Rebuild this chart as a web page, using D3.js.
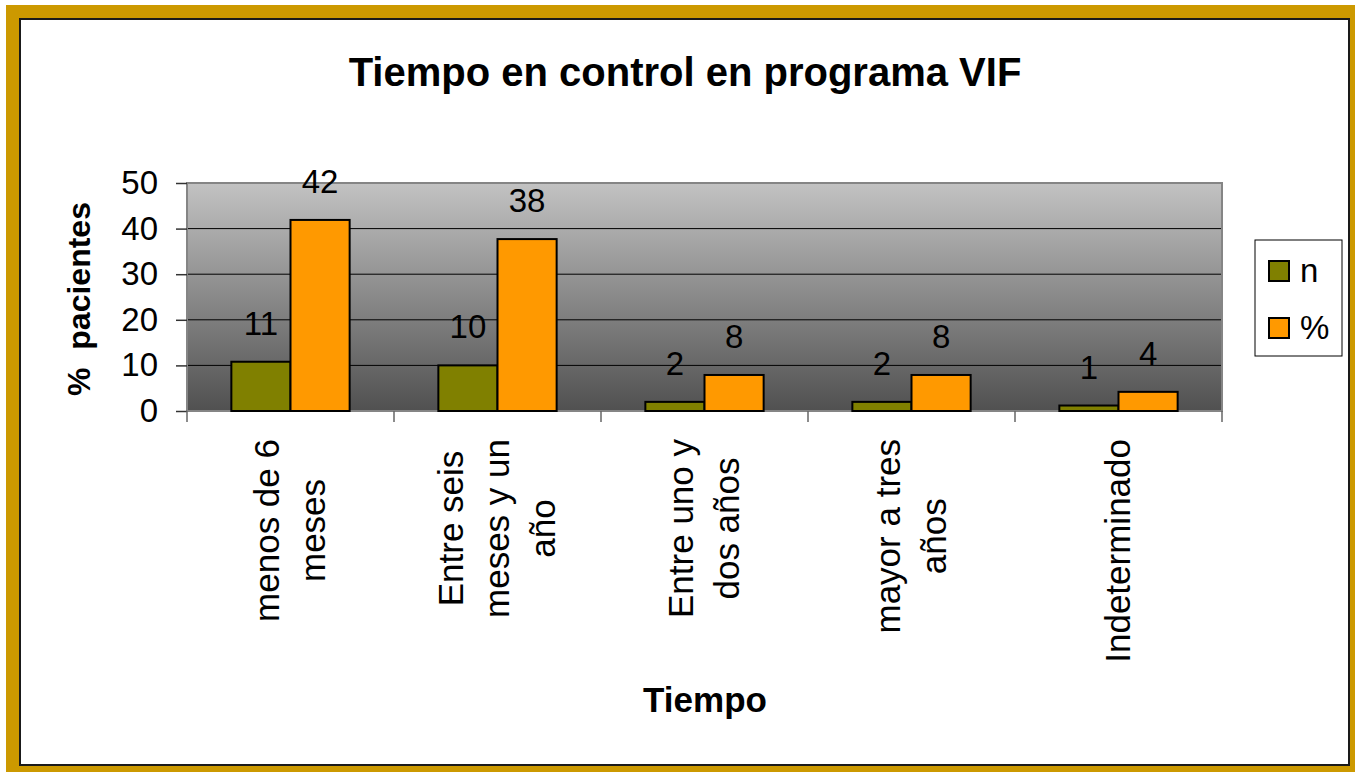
<!DOCTYPE html>
<html>
<head>
<meta charset="utf-8">
<script src="https://cdn.jsdelivr.net/npm/d3@7"></script>
<style>
  body { margin: 0; background: #fff; }
  text { font-family: "Liberation Sans", Arial, sans-serif; fill: #000; }
</style>
</head>
<body>
<div id="chart"></div>
<script>
var CATEGORIES = [
    ['menos de 6', 'meses'],
    ['Entre seis', 'meses y un', 'año'],
    ['Entre uno y', 'dos años'],
    ['mayor a tres', 'años'],
    ['Indeterminado']
];
var SERIES = ['n', '%'];
var N_VALUES = [10.8, 10, 2, 2, 1.2];
var PCT_VALUES = [41.9, 37.7, 7.9, 7.9, 4.2];
var Y_TICKS = [0, 10, 20, 30, 40, 50];
var COLORS = ['#808000', '#ff9900'];

var W = 1355, H = 773;
var plot = {left: 187, right: 1222, top: 183, bottom: 411};

var svg = d3.select('#chart').append('svg')
    .attr('width', W)
    .attr('height', H);

// gold frame + inner white panel
svg.append('rect')
    .attr('x', 6).attr('y', 5)
    .attr('width', W - 6).attr('height', 767)
    .attr('fill', '#cc9900');
svg.append('rect')
    .attr('x', 20).attr('y', 19)
    .attr('width', 1329).attr('height', 746)
    .attr('fill', '#fff')
    .attr('stroke', '#1a1a1a')
    .attr('stroke-width', 2);

svg.append('text')
    .attr('x', 685).attr('y', 86)
    .attr('text-anchor', 'middle')
    .attr('font-size', 40)
    .attr('font-weight', 'bold')
    .text('Tiempo en control en programa VIF');

var x = d3.scaleBand()
    .domain(d3.range(CATEGORIES.length))
    .range([plot.left, plot.right]);

var xs = d3.scaleBand()
    .domain(SERIES)
    .range([0, x.bandwidth()])
    .paddingOuter(0.75);

var y = d3.scaleLinear()
    .domain([0, 50])
    .range([plot.bottom, plot.top]);

// plot background gradient
var grad = svg.append('defs').append('linearGradient')
    .attr('id', 'bg')
    .attr('x1', 0).attr('y1', 0).attr('x2', 0).attr('y2', 1);
grad.append('stop').attr('offset', '0%').attr('stop-color', '#c2c2c2');
grad.append('stop').attr('offset', '100%').attr('stop-color', '#505050');

svg.append('rect')
    .attr('x', plot.left).attr('y', plot.top)
    .attr('width', plot.right - plot.left)
    .attr('height', plot.bottom - plot.top)
    .attr('fill', 'url(#bg)');

// gridlines
svg.append('g')
    .selectAll('line')
    .data(Y_TICKS.filter(function(d) { return d > 0 && d < 50; }))
    .enter()
    .append('line')
    .attr('x1', plot.left).attr('x2', plot.right)
    .attr('y1', function(d) { return y(d); })
    .attr('y2', function(d) { return y(d); })
    .attr('stroke', '#000')
    .attr('stroke-width', 1);

svg.append('rect')
    .attr('x', plot.left).attr('y', plot.top)
    .attr('width', plot.right - plot.left)
    .attr('height', plot.bottom - plot.top)
    .attr('fill', 'none')
    .attr('stroke', '#858585')
    .attr('stroke-width', 2);

// y axis
var yAxis = svg.append('g')
    .attr('transform', 'translate(' + plot.left + ',0)')
    .call(d3.axisLeft(y).tickValues(Y_TICKS).tickSize(11).tickPadding(18));
yAxis.select('.domain').remove();
yAxis.selectAll('line').attr('stroke', '#333').attr('stroke-width', 1.5);
yAxis.selectAll('text')
    .attr('font-size', 33)
    .attr('font-family', '"Liberation Sans", Arial, sans-serif')
    .attr('fill', '#000');

// x category ticks
svg.append('g')
    .selectAll('line')
    .data(d3.range(CATEGORIES.length + 1))
    .enter()
    .append('line')
    .attr('x1', function(i) { return plot.left + i * x.step(); })
    .attr('x2', function(i) { return plot.left + i * x.step(); })
    .attr('y1', plot.bottom).attr('y2', plot.bottom + 11)
    .attr('stroke', '#666')
    .attr('stroke-width', 1.5);

// bars
var rows = CATEGORIES.map(function(c, i) {
    return [N_VALUES[i], PCT_VALUES[i]];
});

var groups = svg.append('g')
    .selectAll('g')
    .data(rows)
    .enter()
    .append('g')
    .attr('transform', function(d, i) { return 'translate(' + x(i) + ',0)'; });

groups.selectAll('rect')
    .data(function(d) { return d; })
    .enter()
    .append('rect')
    .attr('x', function(d, j) { return xs(SERIES[j]); })
    .attr('y', function(d) { return y(d); })
    .attr('width', xs.bandwidth())
    .attr('height', function(d) { return y(0) - y(d); })
    .attr('fill', function(d, j) { return COLORS[j]; })
    .attr('stroke', '#000')
    .attr('stroke-width', 2);

groups.selectAll('text')
    .data(function(d) { return d; })
    .enter()
    .append('text')
    .attr('x', function(d, j) { return xs(SERIES[j]) + xs.bandwidth() / 2; })
    .attr('y', function(d) { return y(d) - 27; })
    .attr('text-anchor', 'middle')
    .attr('font-size', 33)
    .text(function(d) { return d3.format('.0f')(d); });

// rotated category labels
var lineGap = 46, labelTop = 439;
CATEGORIES.forEach(function(lines, i) {
    var g = svg.append('g')
        .attr('transform', 'translate(' + (x(i) + x.bandwidth() / 2) + ',' + labelTop + ') rotate(-90)');
    var t = g.selectAll('text')
        .data(lines)
        .enter()
        .append('text')
        .attr('font-size', 35)
        .attr('text-anchor', 'middle')
        .attr('y', function(d, k) { return (k - (lines.length - 1) / 2) * lineGap + 11; })
        .text(function(d) { return d; });
    var maxW = d3.max(t.nodes(), function(n) { return n.getComputedTextLength(); });
    t.attr('x', -maxW / 2);
});

// axis titles
svg.append('text')
    .attr('x', 705).attr('y', 712)
    .attr('text-anchor', 'middle')
    .attr('font-size', 35)
    .attr('font-weight', 'bold')
    .text('Tiempo');

svg.append('text')
    .attr('transform', 'translate(90,299) rotate(-90)')
    .attr('text-anchor', 'middle')
    .attr('font-size', 32)
    .attr('font-weight', 'bold')
    .style('white-space', 'pre')
    .text('%  pacientes');

// legend
var legend = svg.append('g');
legend.append('rect')
    .attr('x', 1255).attr('y', 240)
    .attr('width', 87).attr('height', 116)
    .attr('fill', '#fff')
    .attr('stroke', '#000')
    .attr('stroke-width', 1);

var items = legend.selectAll('g.item')
    .data(SERIES)
    .enter()
    .append('g')
    .attr('class', 'item')
    .attr('transform', function(d, j) { return 'translate(1269,' + (261 + j * 57) + ')'; });

items.append('rect')
    .attr('width', 20).attr('height', 20)
    .attr('fill', function(d, j) { return COLORS[j]; })
    .attr('stroke', '#000')
    .attr('stroke-width', 2);

items.append('text')
    .attr('x', 31).attr('y', 21)
    .attr('font-size', 33)
    .text(function(d) { return d; });
</script>
</body>
</html>
